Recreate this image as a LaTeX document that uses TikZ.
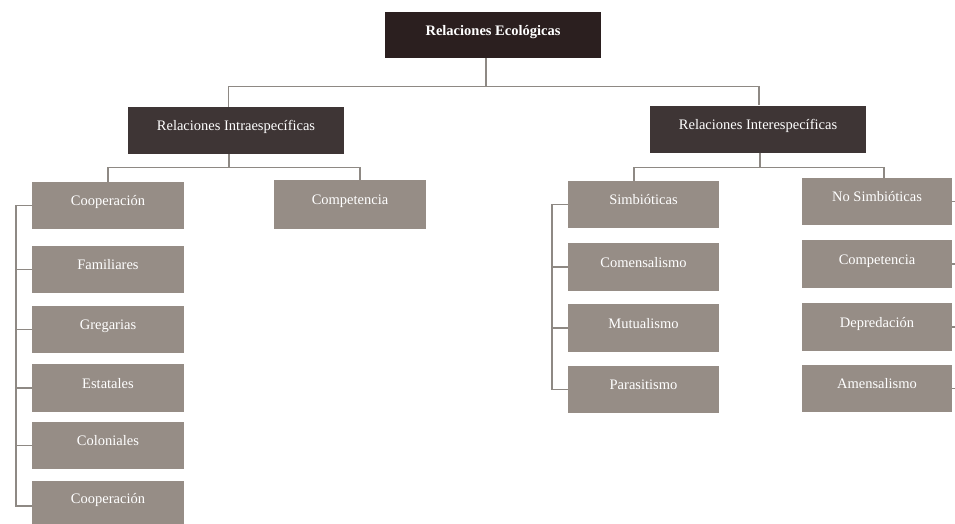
\documentclass[tikz,border=0pt]{standalone}
\usepackage{fontspec}
\setmainfont{Liberation Serif}
\definecolor{topc}{HTML}{2B1F1F}
\definecolor{darkc}{HTML}{3E3535}
\definecolor{grayc}{HTML}{968D86}
\definecolor{linec}{HTML}{8E8984}
\begin{document}
\begin{tikzpicture}[x=1pt,y=-1pt,
  base/.style={rectangle,inner sep=0pt,text=white,text height=4pt,text depth=4pt,font=\fontsize{14.5}{16}\selectfont},
  topbox/.style={base,fill=topc,minimum width=216pt,minimum height=46pt,font=\bfseries\fontsize{14.5}{16}\selectfont},
  darkbox/.style={base,fill=darkc,minimum width=216pt,minimum height=47pt},
  graybox/.style={base,fill=grayc,minimum width=152pt,minimum height=47pt},
  conn/.style={draw=linec,line width=1.1pt}]
\useasboundingbox[fill=white] (0,0) rectangle (955,523);
% top
\node[topbox] (top) at (493,35) {Relaciones Ecológicas};
\node[darkbox] (intra) at (236,130.5) {Relaciones Intraespecíficas};
\node[darkbox] (inter) at (758,129) {Relaciones Interespecíficas};
% intra children
\node[graybox] (coopA) at (108,205.5) {Cooperación};
\node[graybox,minimum height=49pt] (compA) at (350,204.5) {Competencia};
\node[graybox] (fam) at (108,269.5) {Familiares};
\node[graybox] (greg) at (108,329.5) {Gregarias};
\node[graybox,minimum height=48pt] (esta) at (108,388) {Estatales};
\node[graybox] (colo) at (108,445.5) {Coloniales};
\node[graybox,minimum height=44pt] (coopB) at (108,503) {Cooperación};
% inter children
\node[graybox,minimum width=151pt] (simb) at (643.5,204.5) {Simbióticas};
\node[graybox,minimum width=151pt,minimum height=48pt] (come) at (643.5,267) {Comensalismo};
\node[graybox,minimum width=151pt,minimum height=48pt] (mutu) at (643.5,328) {Mutualismo};
\node[graybox,minimum width=151pt] (para) at (643.5,389.5) {Parasitismo};
\node[graybox,minimum width=150pt] (nosi) at (877,201.5) {No Simbióticas};
\node[graybox,minimum width=150pt,minimum height=48pt] (compB) at (877,264) {Competencia};
\node[graybox,minimum width=150pt,minimum height=48pt] (depr) at (877,327) {Depredación};
\node[graybox,minimum width=150pt] (amen) at (877,388.5) {Amensalismo};
% connectors top level
\draw[conn] ([xshift=-7pt]top.south) -- ++(0,28) coordinate (tj);
\draw[conn] ([xshift=-7.5pt]intra.north) |- (tj) -| ([xshift=1pt]inter.north);
% intra level
\draw[conn] ([xshift=-7pt]intra.south) -- ++(0,13) coordinate (ij);
\draw[conn] (coopA.north) |- (ij) -| ([xshift=10pt]compA.north);
% inter level
\draw[conn] ([xshift=2pt]inter.south) -- ++(0,15) coordinate (rj);
\draw[conn] ([xshift=-9.5pt]simb.north) |- (rj) -| ([xshift=7pt]nosi.north);
% left bracket
\coordinate (lb) at (16,0);
\draw[conn] (coopA.west) -- (coopA.west -| lb) -- ([yshift=-3pt]coopB.west -| lb) -- ([yshift=-3pt]coopB.west);
\foreach \n in {fam,greg,esta,colo} \draw[conn] (\n.west) -- (\n.west -| lb);
% right bracket
\coordinate (rb) at (552,0);
\draw[conn] (simb.west) -- (simb.west -| rb) -- (para.west -| rb) -- (para.west);
\foreach \n in {come,mutu} \draw[conn] (\n.west) -- (\n.west -| rb);
% right edge ticks
\foreach \n in {nosi,compB,depr,amen} \draw[conn] (\n.east) -- ++(4,0);
\end{tikzpicture}
\end{document}
